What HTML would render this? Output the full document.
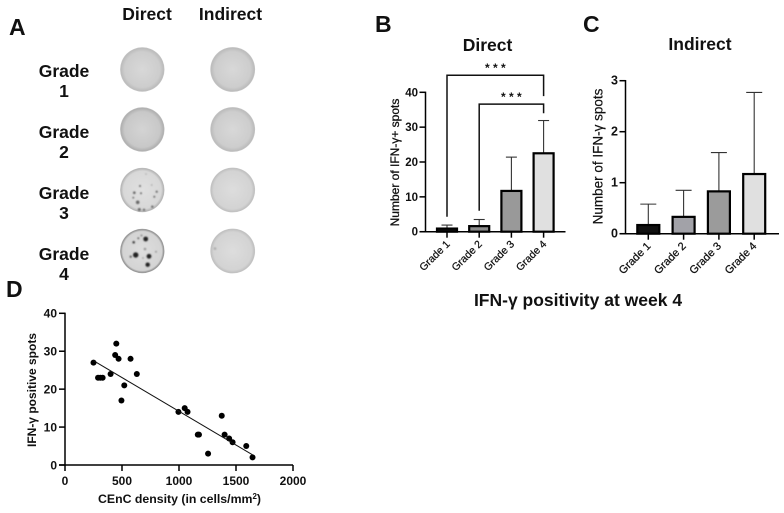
<!DOCTYPE html>
<html lang="en">
<head>
<meta charset="utf-8">
<title>IFN-γ positivity figure</title>
<style>
html,body{margin:0;padding:0;background:#fff;}
#fig{display:block;width:784px;height:513px;font-family:"Liberation Sans",sans-serif;}
text{fill:#111;}
.b{font-weight:bold;}
</style>
</head>
<body>
<svg id="fig" xmlns="http://www.w3.org/2000/svg" width="784" height="513" viewBox="0 0 784 513">
<defs>
<radialGradient id="well-a" cx="50%" cy="50%" r="50%"><stop offset="0" stop-color="#d8d8d8"/><stop offset=".8" stop-color="#cdcdcd"/><stop offset=".96" stop-color="#bcbcbc"/><stop offset="1" stop-color="#c8c8c8"/></radialGradient>
<radialGradient id="well-b" cx="50%" cy="50%" r="50%"><stop offset="0" stop-color="#d4d4d4"/><stop offset=".8" stop-color="#c8c8c8"/><stop offset=".96" stop-color="#b0b0b0"/><stop offset="1" stop-color="#c2c2c2"/></radialGradient>
<radialGradient id="well-c" cx="50%" cy="50%" r="50%"><stop offset="0" stop-color="#e0e0e0"/><stop offset=".85" stop-color="#d8d8d8"/><stop offset=".97" stop-color="#b4b4b4"/><stop offset="1" stop-color="#cccccc"/></radialGradient>
<radialGradient id="well-d" cx="50%" cy="50%" r="50%"><stop offset="0" stop-color="#dedede"/><stop offset=".88" stop-color="#d4d4d4"/><stop offset=".97" stop-color="#929292"/><stop offset="1" stop-color="#b4b4b4"/></radialGradient>
<radialGradient id="well-e" cx="50%" cy="50%" r="50%"><stop offset="0" stop-color="#dddddd"/><stop offset=".85" stop-color="#d3d3d3"/><stop offset=".97" stop-color="#c0c0c0"/><stop offset="1" stop-color="#cccccc"/></radialGradient>
<filter id="soft" x="-60%" y="-60%" width="220%" height="220%"><feGaussianBlur stdDeviation="0.7"/></filter>
</defs>

<g>
  <text class="b" x="9" y="35" font-size="23">A</text>
  <text class="b" x="147" y="20" font-size="17.5" text-anchor="middle">Direct</text>
  <text class="b" x="230.5" y="20" font-size="17.5" text-anchor="middle">Indirect</text>
  <text class="b" x="64" y="77" font-size="17.5" text-anchor="middle">Grade<tspan x="64" y="97">1</tspan></text>
  <text class="b" x="64" y="138" font-size="17.5" text-anchor="middle">Grade<tspan x="64" y="158">2</tspan></text>
  <text class="b" x="64" y="199" font-size="17.5" text-anchor="middle">Grade<tspan x="64" y="219">3</tspan></text>
  <text class="b" x="64" y="260" font-size="17.5" text-anchor="middle">Grade<tspan x="64" y="280">4</tspan></text>

  <circle cx="142.3" cy="69.5" r="22.2" fill="url(#well-a)"/>
  <circle cx="232.7" cy="69.5" r="22.4" fill="url(#well-a)"/>
  <circle cx="142.3" cy="129.5" r="22.2" fill="url(#well-b)"/>
  <circle cx="232.7" cy="129.5" r="22.4" fill="url(#well-a)"/>
  <circle cx="142.3" cy="190" r="22.2" fill="url(#well-c)"/>
  <circle cx="232.7" cy="190" r="22.4" fill="url(#well-e)"/>
  <circle cx="142.3" cy="251" r="22.2" fill="url(#well-d)"/>
  <circle cx="232.7" cy="251" r="22.4" fill="url(#well-e)"/>

  <g fill="#666" filter="url(#soft)">
    <circle cx="134.3" cy="192.7" r="1.3"/><circle cx="137.7" cy="202.3" r="1.8"/><circle cx="140" cy="186" r="1"/>
    <circle cx="141" cy="193.3" r="1"/><circle cx="156.7" cy="191.7" r="1.1"/><circle cx="154.3" cy="196.7" r="1"/>
    <circle cx="133.3" cy="197.7" r=".9"/><circle cx="152.3" cy="206.7" r="1.2"/><circle cx="139.3" cy="209.5" r="1.5"/>
    <circle cx="144" cy="209.8" r="1.2"/><circle cx="151.7" cy="185" r=".9" fill="#aaa"/><circle cx="146" cy="174" r=".8" fill="#aaa"/>
  </g>
  <g fill="#222" filter="url(#soft)">
    <circle cx="145.7" cy="239" r="2.4"/><circle cx="135.7" cy="255" r="2.7"/><circle cx="149" cy="256.3" r="2.4"/>
    <circle cx="147.7" cy="264.7" r="2.2"/><circle cx="133.7" cy="242.3" r="1.3" fill="#444"/><circle cx="138.3" cy="238.3" r="1" fill="#666"/>
    <circle cx="145" cy="249" r="1.3" fill="#999"/><circle cx="130.7" cy="256.7" r="1.2" fill="#666"/><circle cx="156" cy="251.7" r="1" fill="#999"/>
    <circle cx="141.5" cy="235.5" r="1" fill="#888"/><circle cx="143" cy="258" r="1" fill="#aaa"/>
  </g>
  <circle cx="215" cy="248.5" r="1.3" fill="#aaa" filter="url(#soft)"/>
</g>

<text class="b" x="375" y="32" font-size="23">B</text>
<text class="b" x="583" y="32" font-size="23">C</text>
<text class="b" x="6" y="297" font-size="23">D</text>
<text class="b" x="487.5" y="51" font-size="17.5" text-anchor="middle">Direct</text>
<text class="b" x="700" y="50" font-size="17.5" text-anchor="middle">Indirect</text>
<text class="b" x="578" y="306" font-size="17.5" text-anchor="middle">IFN-γ positivity at week 4</text>

<g id="chart-b"></g>
<g id="chart-c"></g>
<g id="chart-d"></g>
</svg>

<script>
const grades = ['Grade 1', 'Grade 2', 'Grade 3', 'Grade 4'];
const directMeans = [0.9, 1.6, 11.7, 22.5];
const directErrorTops = [1.9, 3.5, 21.4, 31.9];
const directTicks = [0, 10, 20, 30, 40];
const indirectMeans = [0.17, 0.33, 0.83, 1.17];
const indirectErrorTops = [0.58, 0.85, 1.59, 2.77];
const indirectTicks = [0, 1, 2, 3];
const barFillsDirect = ['#111111', '#8c8c8c', '#999999', '#e0e0e0'];
const barFillsIndirect = ['#111111', '#a2a2a8', '#9b9b9b', '#e0e0e0'];
const bracketFrom = [0, 1];
const bracketTo = [3, 3];
const bracketTop = [44.9, 36.6];
const bracketLeftEnd = [4.3, 6];
const bracketRightEnd = [38.9, 34];
const bracketLabels = ['* * *', '* * *'];
const densityX = [250, 290, 310, 330, 400, 440, 450, 470, 495, 520, 575, 630, 995, 1050, 1075, 1165, 1175, 1255, 1375, 1400, 1440, 1470, 1590, 1645];
const spotsY = [27, 23, 23, 23, 24, 29, 32, 28, 17, 21, 28, 24, 14, 15, 14, 8, 8, 3, 13, 8, 7, 6, 5, 2];
const fitX = [250, 1645];
const fitY = [27.5, 2.7];
const scatterXTicks = [0, 500, 1000, 1500, 2000];
const scatterYTicks = [0, 10, 20, 30, 40];

const NS = 'http://www.w3.org/2000/svg';
function mk(parent, tag, attrs, txt) {
  const e = document.createElementNS(NS, tag);
  for (const k in attrs) e.setAttribute(k, attrs[k]);
  if (txt !== undefined) e.textContent = txt;
  parent.appendChild(e);
  return e;
}
function linear(d0, d1, r0, r1) {
  return v => r0 + (v - d0) * (r1 - r0) / (d1 - d0);
}

function barChart(root, o) {
  const y = linear(0, o.yMax, o.y0, o.yTop);
  const x = i => o.x0 + i * o.step;
  o.tops.forEach((t, i) => {
    const stem = mk(root, 'line', {x1: x(i), x2: x(i), y1: y(o.means[i]), y2: y(t), stroke: '#333', 'stroke-width': 1.1});
    
    
    const cap = mk(root, 'line', {x1: x(i) - o.cap, x2: x(i) + o.cap, y1: y(t), y2: y(t), stroke: '#333', 'stroke-width': 1.1});
    
    
  });
  o.means.forEach((m, i) => {
    const bar = mk(root, 'rect', {x: x(i) - o.barW / 2, y: y(m), width: o.barW, height: Math.max(0, y(0) - y(m)), fill: o.fills[i], stroke: '#000', 'stroke-width': o.sw});
    
    
  });
  const yAxis = mk(root, 'line', {x1: o.axisX, x2: o.axisX, y1: y(0) + .7, y2: y(o.yMax) - .7, stroke: '#000', 'stroke-width': 1.5});
  
  
  const xAxis = mk(root, 'line', {x1: o.axisX - o.tick, x2: o.xEnd, y1: y(0), y2: y(0), stroke: '#000', 'stroke-width': 1.5});
  
  
  o.ticks.forEach(t => {
    const tk = mk(root, 'line', {x1: o.axisX - o.tick, x2: o.axisX, y1: y(t), y2: y(t), stroke: '#000', 'stroke-width': 1.5});
    
    
    const lb = mk(root, 'text', {x: o.axisX - o.tick - 1.5, y: y(t) + 4, 'font-size': o.tickFont, 'font-weight': 'bold', 'text-anchor': 'end'}, t);
    
    
  });
  grades.forEach((g, i) => {
    const tk = mk(root, 'line', {x1: x(i), x2: x(i), y1: y(0), y2: y(0) + 6, stroke: '#000', 'stroke-width': 1.5});
    
    
    const lx = x(i) + o.labelDx, ly = y(0) + o.labelDy;
    const lb = mk(root, 'text', {x: lx, y: ly, 'font-size': o.catFont, 'text-anchor': 'end', transform: 'rotate(-45 ' + lx + ' ' + ly + ')', stroke: '#111', 'stroke-width': 0.25}, g);
    
    
  });
  const ty = mk(root, 'text', {x: 0, y: 0, 'font-size': o.titleFont, 'font-weight': o.titleWeight, 'text-anchor': 'middle', transform: 'translate(' + o.titleX + ' ' + o.titleY + ') rotate(-90)', stroke: '#111', 'stroke-width': o.titleStroke}, o.title);
  
  
  return {x, y};
}

const rootB = document.getElementById('chart-b');
const scaleB = barChart(rootB, {
  means: directMeans, tops: directErrorTops, fills: barFillsDirect, ticks: directTicks, yMax: 40,
  y0: 231.7, yTop: 92.3, x0: 447, step: 32.2, barW: 20, sw: 2.2, cap: 5.5, axisX: 425.5, xEnd: 565.5, tick: 6,
  tickFont: 11.5, catFont: 10.5, labelDx: 3.5, labelDy: 13, title: 'Number of IFN-γ+  spots', titleFont: 12, titleWeight: 'normal', titleStroke: 0.3, titleX: 399, titleY: 162.5
});
bracketFrom.forEach((f, i) => {
  const xa = scaleB.x(f), xb = scaleB.x(bracketTo[i]), yt = scaleB.y(bracketTop[i]);
  const br = mk(rootB, 'polyline', {points: [xa, scaleB.y(bracketLeftEnd[i]), xa, yt, xb, yt, xb, scaleB.y(bracketRightEnd[i])].join(' '), fill: 'none', stroke: '#111', 'stroke-width': 1.5});
  
  
  const st = mk(rootB, 'text', {x: (xa + xb) / 2, y: yt - 3, 'font-size': 12, 'font-weight': 'bold', 'text-anchor': 'middle'}, bracketLabels[i]);
  
  
});

const rootC = document.getElementById('chart-c');
barChart(rootC, {
  means: indirectMeans, tops: indirectErrorTops, fills: barFillsIndirect, ticks: indirectTicks, yMax: 3,
  y0: 233.7, yTop: 80.7, x0: 648.3, step: 35.3, barW: 22, sw: 2.2, cap: 8, axisX: 625.5, xEnd: 779, tick: 6,
  tickFont: 12.5, catFont: 11, labelDx: 3, labelDy: 13, title: 'Number of IFN-γ spots', titleFont: 13.5, titleWeight: 'normal', titleStroke: 0.2, titleX: 602.5, titleY: 156.5
});

const rootD = document.getElementById('chart-d');
const sx = linear(0, 2000, 65, 293);
const sy = linear(0, 40, 465, 313.3);
densityX.forEach((d, i) => {
  const c = mk(rootD, 'circle', {cx: sx(d), cy: sy(spotsY[i]), r: 3, fill: '#000'});
  
  
});
const fit = mk(rootD, 'line', {x1: sx(fitX[0]), y1: sy(fitY[0]), x2: sx(fitX[1]), y2: sy(fitY[1]), stroke: '#111', 'stroke-width': 1});


const dyAxis = mk(rootD, 'line', {x1: 65, x2: 65, y1: sy(0) + .7, y2: sy(40) - .7, stroke: '#000', 'stroke-width': 1.5});


const dxAxis = mk(rootD, 'line', {x1: 59, x2: sx(2000), y1: sy(0), y2: sy(0), stroke: '#000', 'stroke-width': 1.5});


scatterYTicks.forEach(t => {
  const tk = mk(rootD, 'line', {x1: 59, x2: 65, y1: sy(t), y2: sy(t), stroke: '#000', 'stroke-width': 1.5});
  
  
  const lb = mk(rootD, 'text', {x: 57, y: sy(t) + 4.3, 'font-size': 12, 'font-weight': 'bold', 'text-anchor': 'end'}, t);
  
  
});
scatterXTicks.forEach(t => {
  const tk = mk(rootD, 'line', {x1: sx(t), x2: sx(t), y1: sy(0), y2: sy(0) + 6, stroke: '#000', 'stroke-width': 1.5});
  
  
  const lb = mk(rootD, 'text', {x: sx(t), y: 485, 'font-size': 12, 'font-weight': 'bold', 'text-anchor': 'middle'}, t);
  
  
});
const dyTitle = mk(rootD, 'text', {x: 0, y: 0, 'font-size': 12, 'font-weight': 'bold', 'text-anchor': 'middle', transform: 'translate(36 390) rotate(-90)'}, 'IFN-γ positive spots');


const dxTitle = mk(rootD, 'text', {x: 179.5, y: 503, 'font-size': 12.3, 'font-weight': 'bold', 'text-anchor': 'middle'}, 'CEnC density (in cells/mm');


mk(dxTitle, 'tspan', {'font-size': 8, dy: -4}, '2');
mk(dxTitle, 'tspan', {dy: 4}, ')');
</script>
</body>
</html>
